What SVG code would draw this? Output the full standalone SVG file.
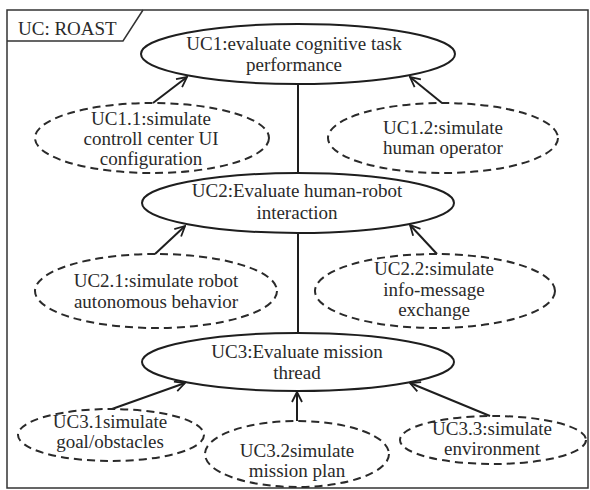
<svg xmlns="http://www.w3.org/2000/svg" width="590" height="490" viewBox="0 0 590 490">
<style>
  text { font-family: "Liberation Serif", "Times New Roman", serif; font-size: 19px; fill: #2a2a2a; text-anchor: middle; }
  .solid { fill: #fff; stroke: #1e1e1e; stroke-width: 2; }
  .dash { fill: none; stroke: #2a2a2a; stroke-width: 2; stroke-dasharray: 8 5; }
  .conn { stroke: #1e1e1e; stroke-width: 2; fill: none; }
  .arrow { marker-end: url(#open); }
</style>
<defs>
  <marker id="open" viewBox="0 0 12 12" refX="11" refY="6" markerWidth="12" markerHeight="12" markerUnits="userSpaceOnUse" orient="auto">
    <path d="M1,1 L11,6 L1,11" fill="none" stroke="#1e1e1e" stroke-width="1.8"/>
  </marker>
</defs>
<rect x="0" y="0" width="590" height="490" fill="#fff"/>
<g id="frame">
  <rect x="7" y="10" width="581" height="478" fill="none" stroke="#333" stroke-width="1.5"/>
  <path d="M7,41 H123 L143,10" fill="none" stroke="#333" stroke-width="1.5"/>
  <text x="18" y="35" style="text-anchor:start">UC: ROAST</text>
</g>
<g id="connectors">
  <line class="conn" x1="298" y1="84" x2="298" y2="173"/>
  <line class="conn" x1="298" y1="233" x2="298" y2="333"/>
  <line class="conn arrow" x1="153" y1="103" x2="187" y2="77"/>
  <line class="conn arrow" x1="442" y1="103" x2="410" y2="77"/>
  <line class="conn arrow" x1="155" y1="254" x2="185" y2="226"/>
  <line class="conn arrow" x1="437" y1="254" x2="410" y2="225"/>
  <line class="conn arrow" x1="112" y1="409" x2="185" y2="383"/>
  <line class="conn arrow" x1="297" y1="421" x2="297" y2="392"/>
  <line class="conn arrow" x1="490" y1="416" x2="410" y2="383"/>
</g>
<g id="uc1">
  <ellipse class="solid" cx="298" cy="54" rx="157" ry="30"/>
  <text x="294" y="50">UC1:evaluate cognitive task</text>
  <text x="294" y="71">performance</text>
</g>
<g id="uc1_1">
  <ellipse class="dash" cx="152" cy="138" rx="117" ry="35"/>
  <text x="151" y="125">UC1.1:simulate</text>
  <text x="151" y="145">controll center UI</text>
  <text x="151" y="165">configuration</text>
</g>
<g id="uc1_2">
  <ellipse class="dash" cx="443" cy="138" rx="115" ry="35"/>
  <text x="443" y="134">UC1.2:simulate</text>
  <text x="443" y="154">human operator</text>
</g>
<g id="uc2">
  <ellipse class="solid" cx="298" cy="203" rx="156" ry="30"/>
  <text x="297" y="197">UC2:Evaluate human-robot</text>
  <text x="297" y="219">interaction</text>
</g>
<g id="uc2_1">
  <ellipse class="dash" cx="156" cy="291" rx="121" ry="37"/>
  <text x="156" y="287">UC2.1:simulate robot</text>
  <text x="156" y="308">autonomous behavior</text>
</g>
<g id="uc2_2">
  <ellipse class="dash" cx="435" cy="291" rx="120" ry="37"/>
  <text x="434" y="275">UC2.2:simulate</text>
  <text x="434" y="296">info-message</text>
  <text x="434" y="316">exchange</text>
</g>
<g id="uc3">
  <ellipse class="solid" cx="298" cy="362" rx="156" ry="29"/>
  <text x="297" y="358">UC3:Evaluate mission</text>
  <text x="297" y="379">thread</text>
</g>
<g id="uc3_1">
  <ellipse class="dash" cx="111" cy="435" rx="93" ry="26"/>
  <text x="110" y="428">UC3.1simulate</text>
  <text x="110" y="448">goal/obstacles</text>
</g>
<g id="uc3_2">
  <ellipse class="dash" cx="297" cy="454" rx="92" ry="33"/>
  <text x="297" y="457">UC3.2simulate</text>
  <text x="297" y="477">mission plan</text>
</g>
<g id="uc3_3">
  <ellipse class="dash" cx="493" cy="440" rx="93" ry="24"/>
  <text x="492" y="435">UC3.3:simulate</text>
  <text x="492" y="455">environment</text>
</g>
</svg>
